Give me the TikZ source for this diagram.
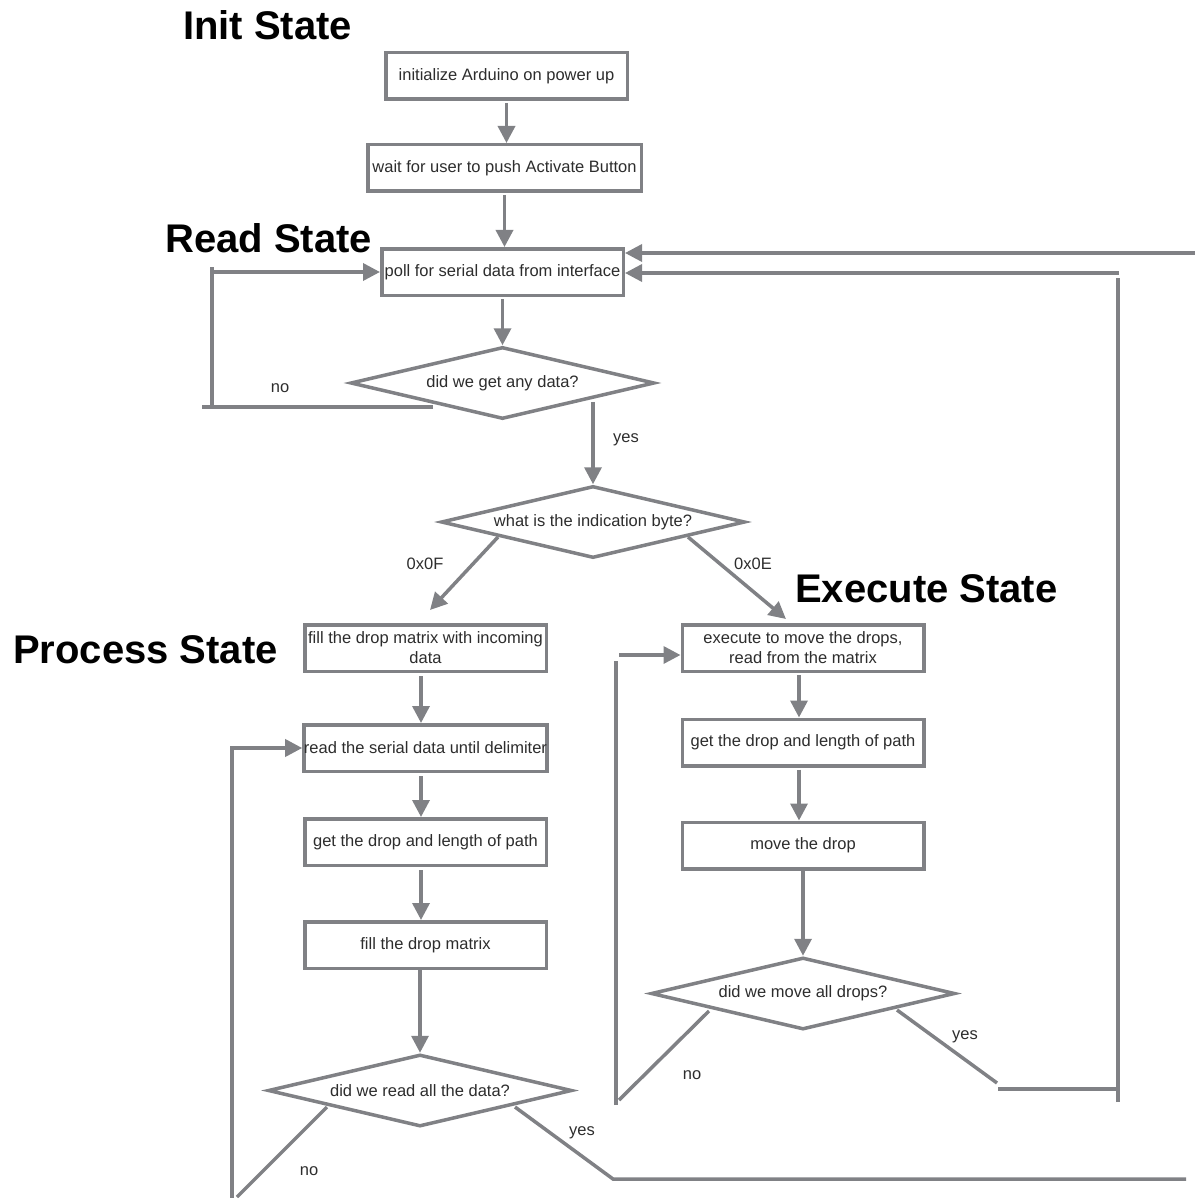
\documentclass[tikz,border=0pt]{standalone}
\usepackage{fontspec}
\setmainfont{Liberation Sans}
\usetikzlibrary{arrows.meta,shapes.geometric,calc}
\definecolor{linegray}{RGB}{128,129,133}
\definecolor{txtgray}{RGB}{45,45,45}
\begin{document}
\begin{tikzpicture}[x=1pt,y=-1pt,
  every node/.style={font=\fontsize{16.5}{20}\selectfont, text=txtgray},
  flowbox/.style={draw=linegray, line width=3.5pt, rectangle, minimum width=241.5pt,
    minimum height=46.5pt, inner sep=0pt, align=center, fill=white},
  decision/.style={draw=linegray, line width=3.5pt, diamond, aspect=4.2,
    minimum width=304pt, minimum height=72pt, inner sep=0pt, fill=white},
  flow/.style={draw=linegray, line width=3.5pt},
  flowarrow/.style={flow, -{Triangle[length=17pt,width=17pt]}},
  statetitle/.style={font=\fontsize{40}{48}\selectfont\bfseries, text=black,
    anchor=base west, inner sep=0pt},
  edgelabel/.style={inner sep=0pt}
]
\useasboundingbox (0,0) rectangle (1194,1198);

% section titles
\node[statetitle] (tInit) at (183,40)  {Init State};
\node[statetitle] (tRead) at (165,252) {Read State};
\node[statetitle] (tProc) at (13,663)  {Process State};
\node[statetitle] (tExec) at (795,602) {Execute State};

% init and read states
\node[flowbox] (b1) at (506.5,76) {initialize Arduino on power up};
\node[flowbox, minimum width=273.5pt] (b2) at (504.5,168) {wait for user to push Activate Button};
\node[flowbox] (b3) at (502.5,272) {poll for serial data from interface};
\node[decision] (d1) at (502.5,383) {did we get any data?};
\node[decision] (d2) at (593,522) {what is the indication byte?};

% process state
\node[flowbox] (p1) at (425.5,648) {fill the drop matrix with incoming\\data};
\node[flowbox] (p2) at (425.5,748) {read the serial data until delimiter};
\node[flowbox] (p3) at (425.5,842) {get the drop and length of path};
\node[flowbox] (p4) at (425.5,945) {fill the drop matrix};
\node[decision] (d3) at (420,1090.5) {did we read all the data?};

% execute state
\node[flowbox] (e1) at (803,648) {execute to move the drops,\\read from the matrix};
\node[flowbox] (e2) at (803,742.5) {get the drop and length of path};
\node[flowbox] (e3) at (803,845.5) {move the drop};
\node[decision] (d4) at (803,993.5) {did we move all drops?};

% straight flow
\draw[flowarrow, shorten <=2pt] (b1.south) -- (b1.south |- b2.north);
\draw[flowarrow, shorten <=2pt] (b2.south) -- (b2.south |- b3.north);
\draw[flowarrow, shorten <=2pt] (b3.south) -- (b3.south |- d1.north);
\draw[flowarrow] (d2.north |- d1.south east) -- (d2.north);
\node[edgelabel] (lYes1) at (626,440) {yes};

% branch on the indication byte
\coordinate (fStart) at ([shift={(-95,15)}]d2.center);
\coordinate (fTip) at (430,610);
\coordinate (eStart) at ([shift={(95,15)}]d2.center);
\coordinate (eTip) at (786,619);
\draw[flowarrow] (fStart) -- (fTip);
\draw[flowarrow] (eStart) -- (eTip);
\node[edgelabel] (lF) at (425,564) {0x0F};
\node[edgelabel] (lE) at (753,564) {0x0E};

% read loop: no data
\coordinate (rdNo) at (433,407);
\coordinate (rdLoop) at (212,0);
\draw[flowarrow] (rdNo) -- (rdNo -| rdLoop) |- (b3.west);
\draw[flow] (rdNo -| rdLoop) -- ++(-10,0);
\draw[flow] (b3.west -| rdLoop) -- ++(0,-5);
\node[edgelabel] (lNo1) at (280,388) {no};

% process column
\draw[flowarrow, shorten <=3pt] ([xshift=-4.5pt]p1.south) -- ([xshift=-4.5pt]p2.north);
\draw[flowarrow, shorten <=3pt] ([xshift=-4.5pt]p2.south) -- ([xshift=-4.5pt]p3.north);
\draw[flowarrow, shorten <=3pt] ([xshift=-4.5pt]p3.south) -- ([xshift=-4.5pt]p4.north);
\draw[flowarrow] (d3.north |- p4.south) -- (d3.north);

% process loop: not all data read
\coordinate (pNoStart) at ([shift={(-93,16.5)}]d3.center);
\coordinate (pNoEnd) at (237,1197);
\coordinate (pLoopBot) at (232,1202);
\draw[flow] (pNoStart) -- (pNoEnd);
\draw[flowarrow] (pLoopBot) |- (p2.west);
\node[edgelabel] (lNo3) at (309,1171) {no};

% process done: back to polling
\coordinate (pYesStart) at ([shift={(95,16.5)}]d3.center);
\coordinate (pYesBend) at (613,1179);
\coordinate (pYesEnd) at (1186,1179);
\draw[flow] (pYesStart) -- (pYesBend) -- (pYesEnd);
\node[edgelabel] (lYes3) at (582,1133) {yes};
\coordinate (rtTop) at (1196,253);
\draw[flowarrow] (rtTop) -- (b3.east |- rtTop);

% execute column
\draw[flowarrow, shorten <=2pt] ([xshift=-4pt]e1.south) -- ([xshift=-4pt]e2.north);
\draw[flowarrow, shorten <=2pt] ([xshift=-4pt]e2.south) -- ([xshift=-4pt]e3.north);
\draw[flowarrow] (e3.south) -- (d4.north);

% execute loop: drops left to move
\coordinate (xNoStart) at ([shift={(-94,17.5)}]d4.center);
\coordinate (xNoEnd) at (619,1100);
\coordinate (xLoopBot) at (616,1105);
\coordinate (xLoopTop) at (616,661);
\coordinate (xArrow) at (619,655);
\draw[flow] (xNoStart) -- (xNoEnd);
\draw[flow] (xLoopBot) -- (xLoopTop);
\draw[flowarrow] (xArrow) -- (e1.west |- xArrow);
\node[edgelabel] (lNo4) at (692,1075) {no};

% execute done: back to polling
\coordinate (xYesStart) at ([shift={(94,16.5)}]d4.center);
\coordinate (xYesBend) at (997,1083);
\coordinate (xYesH) at (998,1089);
\coordinate (xRunBot) at (1118,1102);
\coordinate (xRunTop) at (1118,278);
\coordinate (xRet) at (1119,273);
\draw[flow] (xYesStart) -- (xYesBend);
\draw[flow] (xYesH) -- (xYesH -| xRunBot);
\draw[flow] (xRunBot) -- (xRunTop);
\draw[flowarrow] (xRet) -- (b3.east |- xRet);
\node[edgelabel] (lYes4) at (965,1037) {yes};
\end{tikzpicture}
\end{document}
